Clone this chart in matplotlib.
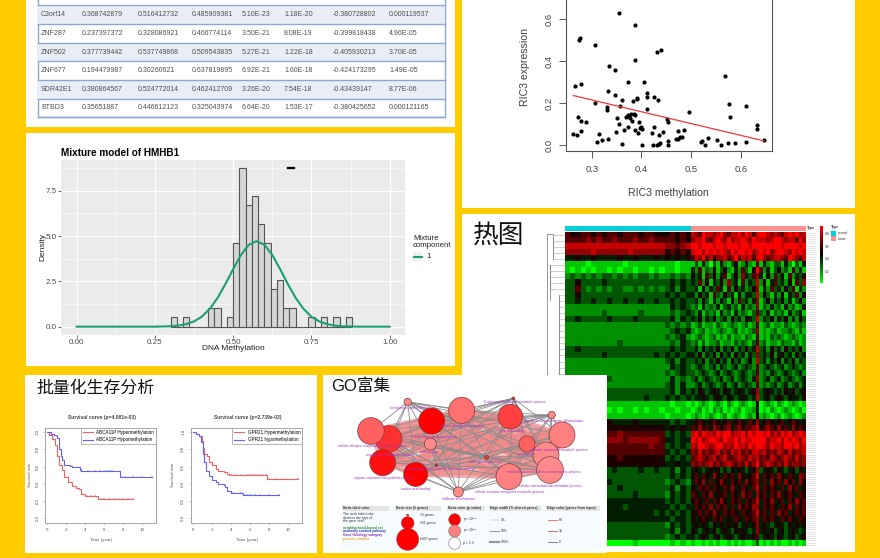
import numpy as np
import matplotlib
matplotlib.use("Agg")
import matplotlib.pyplot as plt
from matplotlib.colors import LinearSegmentedColormap
from matplotlib.patches import Circle, Rectangle
from itertools import combinations

plt.rcParams['font.family'] = ['Liberation Sans', 'Noto Sans CJK SC', 'DejaVu Sans']

YELLOW = "#FFCC00"
W, H = 880, 558

# table
genes = ["C3orf14", "ZNF287", "ZNF502", "ZNF677", "SDR42E1", "BTBD3"]
col_a = ["0.368742879", "0.237397372", "0.377739442", "0.194479987", "0.380864567", "0.35651887"]
col_b = ["0.516412732", "0.328086921", "0.537749868", "0.30260621", "0.524772014", "0.446612123"]
col_c = ["0.485909381", "0.466774114", "0.509543835", "0.637819895", "0.462412709", "0.325043974"]
col_d = ["5.10E-23", "3.50E-21", "5.27E-21", "6.92E-21", "3.26E-20", "6.64E-20"]
col_e = ["1.18E-20", "8.08E-19", "1.22E-18", "1.60E-18", "7.54E-18", "1.53E-17"]
col_f = ["-0.380728802", "-0.399818438", "-0.405930213", "-0.424173295", "-0.43439147", "-0.380425652"]
col_g = ["0.000119537", "4.96E-05", "3.70E-05", "1.49E-05", "8.77E-06", "0.000121165"]

# histogram of HMHB1
hist_lefts = [0.30, 0.32, 0.34, 0.36, 0.38, 0.40, 0.42, 0.44, 0.46, 0.48, 0.50, 0.52, 0.54, 0.56, 0.58,
              0.60, 0.62, 0.64, 0.66, 0.68, 0.70, 0.72, 0.74, 0.76, 0.78, 0.80, 0.82, 0.84, 0.86]
hist_density = [0.51, 0, 0.51, 0, 0, 0, 1.03, 1.03, 0, 0.51, 4.63, 8.75, 6.69, 7.2, 5.66,
                4.63, 2.06, 2.57, 1.03, 1.03, 0, 0, 0.51, 0, 0.51, 0, 0.51, 0, 0.51]
curve_x = [0, 0.25, 0.30, 0.325, 0.35, 0.375, 0.40, 0.425, 0.45, 0.475, 0.50, 0.525, 0.55, 0.575, 0.60,
           0.625, 0.65, 0.675, 0.70, 0.725, 0.75, 0.775, 0.80, 0.825, 0.85, 0.90, 1.0]
curve_y = [0, 0, 0.02, 0.06, 0.14, 0.29, 0.55, 0.98, 1.58, 2.34, 3.18, 3.96, 4.52, 4.72, 4.52,
           3.96, 3.18, 2.34, 1.58, 0.98, 0.55, 0.29, 0.14, 0.06, 0.02, 0, 0]

# RIC3 scatter
ric3_meth = [.354, .386, .275, .276, .307, .431, .439, .388, .335, .347, .568, .373, .405, .267, .279, .333,
             .347, .412, .411, .425, .433, .360, .383, .392, .392, .307, .575, .331, .331, .356, .609, .411,
             .496, .273, .578, .351, .368, .372, .378, .384, .374, .386, .377, .380, .278, .288, .396, .451,
             .453, .354, .632, .632, .279, .263, .270, .315, .333, .321, .311, .361, .349, .364, .372, .387,
             .394, .397, .400, .402, .425, .422, .435, .444, .402, .424, .432, .435, .437, .453, .454, .469,
             .474, .474, .478, .482, .486, .520, .522, .527, .533, .551, .559, .574, .588, .609, .646]
ric3_expr = [.629, .575, .503, .511, .479, .446, .452, .406, .376, .357, .329, .302, .302, .284, .292, .257,
             .240, .249, .232, .230, .214, .216, .213, .224, .219, .203, .198, .183, .167, .186, .187, .175,
             .159, .137, .135, .129, .135, .144, .148, .149, .140, .144, .129, .117, .117, .110, .110, .124,
             .111, .102, .097, .076, .068, .056, .049, .052, .032, .024, .014, .006, .062, .073, .086, .073,
             .060, .081, .089, .078, .087, .060, .049, .062, .002, .002, .002, .008, .013, .003, .021, .029,
             .067, .030, .038, .038, .073, .016, .021, .002, .035, .027, .002, .011, .010, .014, .024]
fit_x = [0.263, 0.646]
fit_y = [0.237, 0.021]

# survival curves
abca_hyper_t = [0, 0.2, 0.5, 0.8, 1.0, 1.2, 1.5, 1.8, 2.2, 2.6, 3.0, 3.3, 3.6, 4.0, 5.3, 9.0]
abca_hyper_s = [1.0, 0.96, 0.92, 0.85, 0.72, 0.62, 0.56, 0.48, 0.42, 0.37, 0.35, 0.34, 0.28, 0.255, 0.225, 0.225]
abca_hypo_t = [0, 0.4, 0.7, 1.0, 1.2, 1.4, 1.6, 1.8, 2.4, 2.6, 3.2, 3.4, 3.5, 7.7, 11.0]
abca_hypo_s = [1.0, 0.98, 0.96, 0.93, 0.80, 0.72, 0.68, 0.62, 0.61, 0.595, 0.59, 0.57, 0.55, 0.48, 0.48]
gpr_hyper_t = [0, 0.3, 0.6, 0.9, 1.0, 1.1, 1.5, 1.7, 2.0, 2.4, 2.6, 3.2, 3.6, 3.8, 7.7, 11.0]
gpr_hyper_s = [1.0, 0.98, 0.95, 0.90, 0.82, 0.75, 0.72, 0.65, 0.62, 0.57, 0.55, 0.54, 0.51, 0.50, 0.45, 0.45]
gpr_hypo_t = [0, 0.3, 0.6, 0.8, 1.0, 1.2, 1.4, 1.7, 2.0, 2.4, 2.6, 3.2, 3.4, 3.6, 4.0, 5.0, 5.2, 9.0]
gpr_hypo_s = [1.0, 0.98, 0.95, 0.88, 0.75, 0.65, 0.55, 0.49, 0.44, 0.42, 0.40, 0.39, 0.36, 0.32, 0.295, 0.29, 0.27, 0.27]
abca_hyper_cens = [4.2, 4.6, 5.0, 5.4, 6.0, 6.5, 7.0, 7.5, 8.0, 8.5, 9.0]
abca_hypo_cens = [3.6, 4.3, 5.0, 5.5, 6.0, 6.3, 6.6, 6.8, 7.8, 8.2, 9.0, 10.0, 11.0]
gpr_hyper_cens = [4.0, 4.5, 5.0, 5.8, 6.0, 6.3, 6.6, 6.9, 7.2, 7.6, 8.0, 8.7, 9.6, 11.0]
gpr_hypo_cens = [4.2, 5.0, 5.3, 5.6, 6.0, 6.5, 7.0, 8.0, 9.0]

# heatmap, one digit per cell: 0 bright green, 4-5 black, 9 bright red
heat_normal = [
    "6556656566566656655 56565", "6666767667666766766 66565", "8888888888888888888 77678",
    "7777787777778777777 56565", "4454454444544544454 54545", "1111011111101111111 11011",
    "1010101101011011010 11011", "2323232332323233232 23232", "3353333433333333333 34343",
    "3363232323322323232 34243", "3353333333333333333 43434", "3343343343343343343 34343",
    "2222222222222222222 24343", "2222222322222232222 23234", "3343333343333433333 34243",
    "2222222222222222222 32323", "2222222222222222222 23434", "2222222222222222222 32342",
    "2222222222322222222 23243", "3343333333333333333 34343", "3333333433333333343 43434",
    "2222222222222222222 34243", "2222222222222222222 24343", "2222222222222222222 32343",
    "2222222232222222222 24232", "2222222222222222222 34242", "3343333333333333333 34243",
    "3333334333333334333 43434", "1111111111111111111 10110", "0110101101011010110 11011",
    "1111111111111111111 01110", "4454444454444544444 43434", "5555555555555555555 45454",
    "6676666666766666666 34343", "7777677777767777776 44344", "6676666766666666766 34343",
    "6666666666666666666 43434", "5565555555655555555 34343", "5555555555555555555 44544",
    "3343333434333343343 34243", "3333333333333333333 34343", "3343333343333333333 23432",
    "3333333333433333333 34243", "3343334333333433333 24343", "4454444444444444444 34343",
    "4444344444434444444 43434", "4454444444444444434 34343", "4444444344444444444 43443",
    "3343333333333333333 24343", "3333334333333333333 34243", "3343333333333333333 23434",
    "0010000000000100000 01010",
]
heat_tumor = [
    "87698878 97688979 86899878 76898978", "78897689 87978898 79888789 98788697",
    "99899989 98999899 89999999 98999989", "89979898 98798998 97898978 99879898",
    "68796857 78679687 86897678 87698768", "13142031 42135124 21614213 31420314",
    "42613251 35214263 15962413 52316241", "53416352 46135274 36741526 35162435",
    "43625143 52734162 43825146 34251637", "34152436 41625342 35714263 42536142",
    "42534163 25341524 43825314 25143625", "34253142 43152634 24713524 35241352",
    "23142324 13423142 32713242 31423124", "32413231 42314232 13632413 23142341",
    "43524352 34253425 43824352 43524253", "12312213 21232123 12612312 21321232",
    "21231212 32123121 23712123 12232131", "12321231 21312213 21612132 32123212",
    "23131223 12213232 13623122 13221312", "34253435 24352435 34834253 42534352",
    "43524352 53425342 43734352 45342534", "34352435 34253423 52834243 52435243",
    "23432342 43234234 32623432 34234323", "32343234 23432343 23623243 23432342",
    "34234323 42342343 24723423 42343234", "23423432 34234234 32623234 23423424",
    "43543454 35434543 45734543 43545345", "34454345 43543454 34834534 54354435",
    "10121012 10210121 01501210 21012101", "01201021 20101201 12401021 01210120",
    "12101210 12012101 21512101 20121012", "45654565 45645654 65745654 56456545",
    "65756476 56746756 67856765 75647565", "89798879 89978897 98998978 79897898",
    "98978998 79889798 89999788 97989879", "87998789 97879887 98998798 87998978",
    "76867678 67687867 68878676 87686778", "67876786 78667876 87867687 67876867",
    "76767867 67876768 67967876 76867767", "45434545 34354543 45734543 54345354",
    "56465475 46564754 56846564 75465476", "46574645 75465647 56746475 64756475",
    "54656465 46574565 46846565 46475645", "65465745 56465475 64756465 74565465",
    "56546465 75465646 56846574 56465756", "46565746 56464756 57746565 46574656",
    "55646575 46565465 56856464 75645656", "54565465 64546546 56746565 46565465",
    "45454354 54545345 45745434 54354545", "54345453 45435454 34745453 45345434",
    "43454345 34543454 45634543 54345345", "10010101 00101010 01301010 10010101",
]

# GO network nodes
node_x = [257, 200, 147, 329, 419, 565, 574, 689, 720, 325, 615, 672, 182, 281, 343, 494, 561, 684, 409]
node_y = [81, 192, 168, 138, 106, 125, 70, 120, 180, 207, 207, 240, 263, 298, 271, 247, 305, 285, 351]
node_r = [11, 40, 40, 39, 39, 37, 4, 11, 39, 18, 24, 39, 39, 36, 4, 6, 39, 40, 15]
node_col = ["#FF8A8A", "#FF3030", "#FF6060", "#FF0000", "#FF7070", "#FF4040", "#E03030", "#FF8A8A", "#FF8080",
            "#FF8A8A", "#FF6060", "#FF8A8A", "#FF1010", "#FF0000", "#E03030", "#F03030", "#FF8080", "#FF8A8A",
            "#FF8A8A"]
small_nodes = [0, 6, 7, 14, 15, 18]
go_labels = ["keratinocyte differentiation", "S-adenosylmethionine metabolic process",
             "regulation of keratinocyte differentiation", "anatomical regionality process",
             "cellular lipid metabolic process", "zinc ion binding",
             "cellular nitrogen compound metabolic process", "regulation of metabolic process",
             "cell junction", "transcription", "aromatic compound metabolic process", "other glycan process",
             "transcription factor activity, binding to nuclear", "metabolic process",
             "nucleic acid metabolic process", "organic substance biosynthetic process", "nucleic acid binding",
             "cellular macromolecule metabolic process", "cellular aromatic compound metabolic process",
             "midbrain development"]
go_label_x = [205, 485, 605, 352, 268, 535, 47, 133, 298, 585, 625, 440, 255, 555, 640, 97, 238, 592, 460, 360]
go_label_y = [98, 81, 138, 152, 185, 169, 214, 240, 232, 238, 226, 260, 283, 291, 291, 310, 343, 333, 351, 373]

fig = plt.figure(figsize=(W / 100, H / 100), dpi=100, facecolor=YELLOW)


def px_axes(x0, y0, x1, y1, **kw):
    # axes placed by pixel box, y counted from the top
    return fig.add_axes([x0 / W, 1 - y1 / H, (x1 - x0) / W, (y1 - y0) / H], **kw)


bg = px_axes(0, 0, W, H, zorder=0)
bg.set_xlim(0, W)
bg.set_ylim(H, 0)
bg.axis("off")

# white panels
for x0, y0, x1, y1 in [(26, 0, 455, 127), (26, 133, 455, 366), (25, 375, 317, 553),
                       (462, 0, 855, 208), (462, 214, 855, 552)]:
    bg.add_patch(Rectangle((x0, y0), x1 - x0, y1 - y0, fc="white", ec="none"))

# ---- table
row_lines = [5.3, 24, 42.7, 61.3, 80, 98.7, 117]
col_pos = [41, 82, 138, 192, 242, 284, 333, 389]
bg.add_patch(Rectangle((37.7, -2), 407.3, 119, fc="none", ec="#8DA6D2", lw=1))
for i, gene in enumerate(genes):
    top, bottom = row_lines[i], row_lines[i + 1]
    if i % 2 == 0:
        bg.add_patch(Rectangle((38, top), 407, bottom - top, fc="#E9EDF5", ec="none"))
    bg.plot([37.7, 445], [top, top], color="#8DA6D2", lw=1)
    ym = (top + bottom) / 2
    row = [gene, col_a[i], col_b[i], col_c[i], col_d[i], col_e[i], col_f[i], col_g[i]]
    for xp, val in zip(col_pos, row):
        bg.text(xp, ym, val, fontsize=5, color="#505050", va="center", ha="left")
bg.plot([37.7, 445], [117, 117], color="#8DA6D2", lw=1)

# ---- mixture model histogram
ax_h = px_axes(61, 160, 405, 335, zorder=1)
ax_h.set_facecolor("#EBEBEB")
ax_h.set_xlim(-0.05, 1.049)
ax_h.set_ylim(-0.46, 9.2)
ax_h.set_xticks([0, 0.25, 0.5, 0.75, 1.0], ["0.00", "0.25", "0.50", "0.75", "1.00"])
ax_h.set_yticks([0, 2.5, 5, 7.5], ["0.0", "2.5", "5.0", "7.5"])
ax_h.set_xticks([0.125, 0.375, 0.625, 0.875], minor=True)
ax_h.set_yticks([1.25, 3.75, 6.25, 8.75], minor=True)
ax_h.grid(True, which="major", color="white", lw=0.8)
ax_h.grid(True, which="minor", color="white", lw=0.4)
ax_h.set_axisbelow(True)
ax_h.tick_params(which="major", labelsize=5.8, labelcolor="#4D4D4D", color="#333333", length=2, width=0.5, pad=1)
ax_h.tick_params(which="minor", length=0)
for s in ax_h.spines.values():
    s.set_visible(False)
ax_h.bar(hist_lefts, hist_density, width=0.02, align="edge", color="#D6D6D6", edgecolor="#555555", lw=0.8)
ax_h.plot(curve_x, curve_y, color="#1B9E77", lw=1.5)
ax_h.plot([0.674, 0.693], [8.77, 8.77], color="black", lw=1.6)
bg.text(61, 153, "Mixture model of HMHB1", fontsize=7.2, fontweight="bold", va="center")
bg.text(233, 348.5, "DNA Methylation", fontsize=6, ha="center", va="center", color="#222222")
bg.text(43, 247, "Density", fontsize=6, rotation=90, ha="center", va="center", color="#222222")
bg.text(413, 238, "Mixture", fontsize=5.6, va="center", color="#222222")
bg.text(413, 245.5, "component", fontsize=5.6, va="center", color="#222222")
bg.add_patch(Rectangle((413, 252), 9, 9, fc="#EFEFEF", ec="none"))
bg.plot([414, 421.5], [256.5, 256.5], color="#1B9E77", lw=1.5)
bg.text(426, 256.5, "1", fontsize=5.6, va="center", color="#222222")

# ---- RIC3 scatter, top of the box falls off the picture
ax_s = px_axes(566, 0, 771.7, 151.3, zorder=1)
ax_s.set_xlim(0.2484, 0.6616)
ax_s.set_ylim(-0.0286, 0.692)
ax_s.scatter(ric3_meth, ric3_expr, s=9, color="black", lw=0)
ax_s.plot(fit_x, fit_y, color="#F03838", lw=0.9)
ax_s.set_xticks([0.3, 0.4, 0.5, 0.6], ["0.3", "0.4", "0.5", "0.6"])
ax_s.set_yticks([0, 0.2, 0.4, 0.6], ["0.0", "0.2", "0.4", "0.6"])
ax_s.tick_params(axis="x", labelsize=6.8, labelcolor="#404040", color="#555555", length=5, width=0.7, pad=5)
ax_s.tick_params(axis="y", labelsize=6.8, labelcolor="#404040", color="#555555", length=5, width=0.7, pad=4)
plt.setp(ax_s.get_yticklabels(), rotation=90, va="center")
ax_s.spines["top"].set_visible(False)
for name in ["left", "right", "bottom"]:
    ax_s.spines[name].set_color("#555555")
    ax_s.spines[name].set_linewidth(0.8)
bg.text(668.7, 193, "RIC3 methylation", fontsize=7.6, ha="center", va="center", color="#404040")
bg.text(525, 66.7, "RIC3 expression", fontsize=7.6, rotation=90, ha="center", va="center", color="#404040")

# ---- heatmap
bg.text(473, 236, "热图", fontsize=18.5, va="center", color="#111111")
gkr = LinearSegmentedColormap.from_list("gkr", ["#00FF00", "#000000", "#FF0000"])
normal_mat = np.array([[int(c) for c in r.replace(" ", "")] for r in heat_normal])
tumor_mat = np.array([[int(c) for c in r.replace(" ", "")] for r in heat_tumor])
ax_m = px_axes(565, 231.7, 805.7, 545.7, zorder=1)
ax_m.imshow(normal_mat, extent=[565, 691, 545.7, 231.7], aspect="auto", cmap=gkr, vmin=0, vmax=9,
            interpolation="nearest")
ax_m.imshow(tumor_mat, extent=[691, 805.7, 545.7, 231.7], aspect="auto", cmap=gkr, vmin=0, vmax=9,
            interpolation="nearest")
ax_m.set_xlim(565, 805.7)
ax_m.set_ylim(545.7, 231.7)
ax_m.axis("off")
bg.add_patch(Rectangle((565, 226), 126, 4.7, fc="#00D0DC", ec="none"))
bg.add_patch(Rectangle((691, 226), 114.7, 4.7, fc="#F8928C", ec="none"))
bg.text(807, 228.3, "Type", fontsize=2.6, fontweight="bold", va="center", color="#333333")

# row labels are too small to read, drawn as a grey strip
for y in np.arange(232.5, 546, 2.2):
    bg.plot([806.7, 815], [y, y], color="#D4D4D4", lw=0.5)

# dendrogram: bracket x, first row, last row
n_rows = len(heat_normal)
row_h = (545.7 - 231.7) / n_rows
dendro = [(553, 0, 4), (550, 5, 9), (559, 10, 30)]
for xb, r0, r1 in dendro:
    ys = [231.7 + (r + 0.5) * row_h for r in range(r0, r1 + 1)]
    bg.plot([xb, xb], [ys[0], ys[-1]], color="#777777", lw=0.6)
    for y in ys:
        bg.plot([xb, 565], [y, y], color="#AAAAAA", lw=0.4)
bg.plot([547, 547], [234, 546], color="#888888", lw=0.6)
bg.plot([547, 553], [234, 234], color="#888888", lw=0.6)
bg.plot([550, 550], [265, 300], color="#888888", lw=0.6)

ax_cb = px_axes(819.7, 226, 822.7, 282.7, zorder=1)
ax_cb.imshow(np.linspace(1, 0, 64).reshape(-1, 1), aspect="auto", cmap=gkr)
ax_cb.axis("off")
for lab, y in zip(["0.8", "0.6", "0.4", "0.2"], [234, 247, 259, 271.7]):
    bg.text(824.5, y, lab, fontsize=2.4, va="center", color="#333333")
bg.text(830.7, 227, "Type", fontsize=2.6, fontweight="bold", va="center", color="#333333")
bg.add_patch(Rectangle((831, 230.7), 5.3, 5.3, fc="#00D0DC", ec="none"))
bg.add_patch(Rectangle((831, 236), 5.3, 5.3, fc="#F8928C", ec="none"))
bg.text(838, 233.3, "normal", fontsize=2.4, va="center", color="#333333")
bg.text(838, 238.6, "tumor", fontsize=2.4, va="center", color="#333333")

# ---- survival curves
bg.text(36, 388, "批量化生存分析", fontsize=12.2, va="center", color="#111111")


def draw_survival(box, title, ylab_x, lab_red, t_red, s_red, c_red, lab_blue, t_blue, s_blue, c_blue):
    ax = px_axes(*box, zorder=1)
    ax.set_xlim(-0.24, 11.44)
    ax.set_ylim(-0.05, 1.046)
    for t, s, cens, col, lab in [(t_red, s_red, c_red, "#F46060", lab_red),
                                 (t_blue, s_blue, c_blue, "#6464F4", lab_blue)]:
        ax.step(t, s, where="post", color=col, lw=0.8, label=lab)
        idx = np.searchsorted(t, cens, side="right") - 1
        ax.plot(cens, np.array(s)[idx], "+", color=col, ms=1.8, mew=0.3)
    ax.set_xticks([0, 2, 4, 6, 8, 10])
    ax.set_yticks([0, 0.2, 0.4, 0.6, 0.8, 1.0], ["0.0", "0.2", "0.4", "0.6", "0.8", "1.0"])
    ax.tick_params(labelsize=3.2, labelcolor="#555555", color="#999999", length=1.5, width=0.4, pad=2.5)
    plt.setp(ax.get_yticklabels(), rotation=90, va="center")
    for s in ax.spines.values():
        s.set_color("#999999")
        s.set_linewidth(0.6)
    ax.legend(loc="upper right", fontsize=3.3, fancybox=False, edgecolor="#999999", framealpha=1,
              borderaxespad=0, handlelength=2.2).get_frame().set_linewidth(0.5)
    xm = (box[0] + box[2]) / 2 + 1
    bg.text(xm, 418, title, fontsize=3.6, fontweight="bold", ha="center", va="center", color="#444444")
    bg.text(xm, 540, "Time (year)", fontsize=3.2, ha="center", va="center", color="#555555")
    bg.text(ylab_x, 475, "Survival rate", fontsize=3.2, rotation=90, ha="center", va="center", color="#555555")


draw_survival((45, 428, 156, 522.7), "Survival curve (p=4.081e-03)", 30,
              "ABCA11P Hypermethylation", abca_hyper_t, abca_hyper_s, abca_hyper_cens,
              "ABCA11P Hypomethylation", abca_hypo_t, abca_hypo_s, abca_hypo_cens)
draw_survival((190.7, 428, 302.3, 522.7), "Survival curve (p=2.739e-02)", 172.7,
              "GPR21 Hypermethylation", gpr_hyper_t, gpr_hyper_s, gpr_hyper_cens,
              "GPR21 hypomethylation", gpr_hypo_t, gpr_hypo_s, gpr_hypo_cens)

# ---- GO network, sits on top of the heatmap; axes units are 3 per pixel
ax_g = px_axes(323, 375, 607, 553, zorder=5)
ax_g.set_xlim(3, 855)
ax_g.set_ylim(534, 0)
ax_g.set_facecolor("white")
ax_g.set_xticks([])
ax_g.set_yticks([])
for s in ax_g.spines.values():
    s.set_visible(False)
ax_g.text(28, 33, "GO富集", fontsize=12, va="center", color="#111111")

big_nodes = [i for i in range(len(node_x)) if i not in small_nodes]
for a, b in combinations(big_nodes, 2):
    ax_g.plot([node_x[a], node_x[b]], [node_y[a], node_y[b]], color="#EE8A8A", lw=3.6, alpha=0.7, zorder=1,
              solid_capstyle="butt")
for a in small_nodes:
    for b in big_nodes:
        ax_g.plot([node_x[a], node_x[b]], [node_y[a], node_y[b]], color="#8C8C8C", lw=0.6, zorder=2)
for a, b in combinations(big_nodes[::3], 2):
    ax_g.plot([node_x[a], node_x[b]], [node_y[a], node_y[b]], color="#8C8C8C", lw=0.5, zorder=2)
for x, y, r, c in zip(node_x, node_y, node_r, node_col):
    ax_g.add_patch(Circle((x, y), r, fc=c, ec="#7A3A3A", lw=0.5, zorder=3))
for x, y, lab in zip(go_label_x, go_label_y, go_labels):
    ax_g.text(x, y, lab, fontsize=2.4, color="#A030C0", va="center", zorder=4)

ax_g.add_patch(Rectangle((58, 390), 777, 135, fc="#F6FBFD", ec="none", zorder=0))
headers = ["Node label color", "Node size (# genes)", "Node color (p value)",
           "Edge width (% shared genes)", "Edge color (genes from input)"]
header_x0 = [60, 218, 375, 500, 672]
header_x1 = [200, 358, 490, 658, 835]
for x0, x1, lab in zip(header_x0, header_x1, headers):
    ax_g.add_patch(Rectangle((x0, 393), x1 - x0, 14, fc="#E4E4E4", ec="none", zorder=1))
    ax_g.text(x0 + 3, 400, lab, fontsize=2.4, fontweight="bold", va="center", color="#333333", zorder=2)
for y, lab in zip([418, 428, 438], ["The node label color", "denotes the type of", "the gene sets:"]):
    ax_g.text(62, y, lab, fontsize=2.4, va="center", color="#333333")
for y, lab, col in zip([460, 469, 480, 491],
                       ["neighborhood-based set", "manually curated pathway", "Gene Ontology category", "protein complex"],
                       ["#2E8B2E", "#3333CC", "#8A2BC0", "#F0A030"]):
    ax_g.text(62, y, lab, fontsize=2.4, fontweight="bold", va="center", color=col)
for y, r, lab in zip([420, 444, 493], [3, 19, 33], ["13 genes", "331 genes", "6497 genes"]):
    ax_g.add_patch(Circle((257, y), r, fc="#FF0000", ec="#7A3A3A", lw=0.3, zorder=3))
    ax_g.text(295, y, lab, fontsize=2.4, va="center", color="#333333")
for y, c, lab in zip([434, 468, 505], ["#FF0000", "#FF8080", "white"],
                     [r"p < 10$^{-5}$", r"p < 10$^{-1}$", "p = 1.0"]):
    ax_g.add_patch(Circle((398, y), 18, fc=c, ec="#777777", lw=0.4, zorder=3))
    ax_g.text(424, y, lab, fontsize=2.4, va="center", color="#333333")
for y, lw, lab in zip([436, 469, 502], [0.3, 0.8, 1.6], ["1%", "50%", "100%"]):
    ax_g.plot([505, 530], [y, y], color="#999999", lw=lw)
    ax_g.text(537, y, lab, fontsize=2.4, va="center", color="#333333")
for y, c, lab in zip([436, 469, 502], ["#FF7070", "#C07070", "#888888"], ["64", "32", "0"]):
    ax_g.plot([677, 705], [y, y], color=c, lw=0.7)
    ax_g.text(712, y, lab, fontsize=2.4, va="center", color="#333333")

fig.savefig("out.png", dpi=100, facecolor=YELLOW)
